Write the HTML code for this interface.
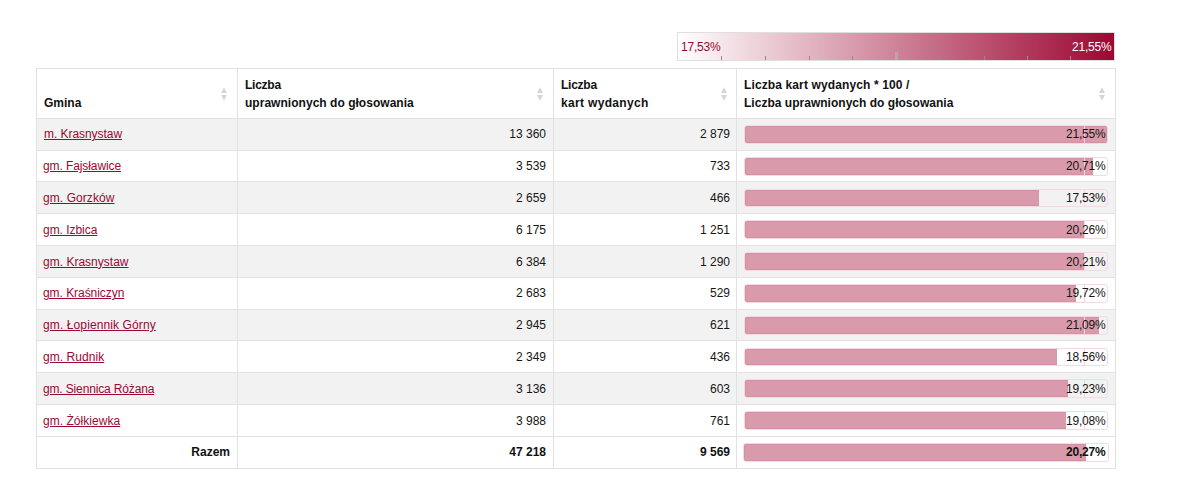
<!DOCTYPE html>
<html lang="pl">
<head>
<meta charset="utf-8">
<title>Frekwencja</title>
<style>
html,body{margin:0;padding:0;background:#fff;}
body{width:1181px;height:486px;position:relative;overflow:hidden;font-family:"Liberation Sans",sans-serif;font-size:12px;color:#151515;}
.legend{position:absolute;left:677px;top:32px;width:436px;height:27px;border:1px solid #dfdfdf;background:linear-gradient(to right,#ffffff 0%,#9d0732 100%);}
.legend .lo{position:absolute;left:3px;top:6px;line-height:17px;color:#9d0732;letter-spacing:-0.2px;}
.legend .hi{position:absolute;right:2.5px;top:6px;line-height:17px;color:#fff;letter-spacing:-0.2px;}
.legend i{position:absolute;bottom:0;width:1px;height:4px;background:#8e8e8e;}
.legend i.m{height:8px;width:1px;background:#aaa;box-shadow:-1px 0 0 rgba(255,255,255,.18),1px 0 0 rgba(255,255,255,.18);}
table{position:absolute;left:36px;top:67.8px;width:1080px;border-collapse:separate;border-spacing:0;table-layout:fixed;border-right:1px solid #e2e2e2;border-bottom:1px solid #e2e2e2;}
th,td{border-left:1px solid #e2e2e2;border-top:1px solid #e2e2e2;padding:0 7px;box-sizing:border-box;}
th{height:50px;text-align:left;vertical-align:bottom;font-weight:bold;line-height:18px;padding-bottom:6px;position:relative;color:#111;}
td{height:31.8px;line-height:16.8px;text-align:right;vertical-align:top;padding-top:7.6px;padding-bottom:6.4px;}
td.b{padding-top:6.2px;padding-bottom:5.8px;}
tr.o td{background:#f2f2f2;}
td.n{text-align:left;}
td.c3{padding-right:6px;}
td.n a{color:#9d0732;text-decoration:underline;}
td.n a.g{margin-left:-1px;}
tr.s td{font-weight:bold;color:#111;}
.srt{position:absolute;right:10px;top:18px;width:6px;height:14px;}
th.h3 .srt{right:9px;}
.bar{position:relative;height:16.8px;border:1px solid #f2dae0;border-radius:3px;}
.bar b{position:absolute;left:0;top:0;bottom:0;background:#d99bab;border-radius:2px 0 0 2px;box-shadow:inset 0 1px 0 rgba(157,7,50,.06),inset 0 -1px 0 rgba(157,7,50,.06),inset 1px 0 0 rgba(157,7,50,.06);}
.bar b.f{border-radius:2px;box-shadow:inset 0 0 0 1px rgba(157,7,50,.06);}
.bar u{position:absolute;left:339px;top:0;bottom:0;width:1px;background:#f1d6dc;}
.bar span{position:absolute;right:1.5px;top:0.4px;line-height:16.8px;font-weight:normal;letter-spacing:-0.2px;}
tr.s .bar span{font-weight:bold;right:2.5px;}
tr.s td.b{padding-left:6px;padding-right:6px;}
tr.s .bar u{display:none;}
</style>
</head>
<body>
<div class="legend">
<span class="lo">17,53%</span><span class="hi">21,55%</span>
<i style="left:43px"></i><i style="left:87px"></i><i style="left:131px"></i><i style="left:174px"></i><i class="m" style="left:218px"></i><i style="left:262px"></i><i style="left:306px"></i><i style="left:349px"></i><i style="left:392px"></i>
</div>
<table>
<colgroup><col style="width:201px"><col style="width:316px"><col style="width:183px"><col style="width:379px"></colgroup>
<thead>
<tr>
<th>Gmina<svg class="srt" viewBox="0 0 6 14"><path d="M3 0.2L6 5.9H0Z M3 13.7L6 8H0Z" fill="#d6d6d6"/></svg></th>
<th><span style="letter-spacing:-0.25px">Liczba</span><br><span style="letter-spacing:0.03px">uprawnionych do głosowania</span><svg class="srt" viewBox="0 0 6 14"><path d="M3 0.2L6 5.9H0Z M3 13.7L6 8H0Z" fill="#d6d6d6"/></svg></th>
<th class="h3"><span style="letter-spacing:-0.25px">Liczba</span><br><span style="letter-spacing:0.33px">kart wydanych</span><svg class="srt" viewBox="0 0 6 14"><path d="M3 0.2L6 5.9H0Z M3 13.7L6 8H0Z" fill="#d6d6d6"/></svg></th>
<th><span style="letter-spacing:0.12px">Liczba kart wydanych * 100 /</span><br><span style="letter-spacing:0.02px">Liczba uprawnionych do głosowania</span><svg class="srt" viewBox="0 0 6 14"><path d="M3 0.2L6 5.9H0Z M3 13.7L6 8H0Z" fill="#d6d6d6"/></svg></th>
</tr>
</thead>
<tbody>
<tr class="o"><td class="n"><a style="letter-spacing:-0.05px">m. Krasnystaw</a></td><td>13 360</td><td class="c3">2 879</td><td class="b"><div class="bar"><b class="f" style="width:362px"></b><u></u><span>21,55%</span></div></td></tr>
<tr><td class="n"><a class="g" style="letter-spacing:-0.097px">gm. Fajsławice</a></td><td>3 539</td><td class="c3">733</td><td class="b"><div class="bar"><b style="width:347.89px"></b><u></u><span>20,71%</span></div></td></tr>
<tr class="o"><td class="n"><a class="g" style="letter-spacing:0.074px">gm. Gorzków</a></td><td>2 659</td><td class="c3">466</td><td class="b"><div class="bar"><b style="width:294.47px"></b><u></u><span>17,53%</span></div></td></tr>
<tr><td class="n"><a class="g" style="letter-spacing:-0.040px">gm. Izbica</a></td><td>6 175</td><td class="c3">1 251</td><td class="b"><div class="bar"><b style="width:340.33px"></b><u></u><span>20,26%</span></div></td></tr>
<tr class="o"><td class="n"><a class="g" style="letter-spacing:0.010px">gm. Krasnystaw</a></td><td>6 384</td><td class="c3">1 290</td><td class="b"><div class="bar"><b style="width:339.49px"></b><u></u><span>20,21%</span></div></td></tr>
<tr><td class="n"><a class="g" style="letter-spacing:-0.050px">gm. Kraśniczyn</a></td><td>2 683</td><td class="c3">529</td><td class="b"><div class="bar"><b style="width:331.26px"></b><u></u><span>19,72%</span></div></td></tr>
<tr class="o"><td class="n"><a class="g" style="letter-spacing:0.110px">gm. Łopiennik Górny</a></td><td>2 945</td><td class="c3">621</td><td class="b"><div class="bar"><b style="width:354.27px"></b><u></u><span>21,09%</span></div></td></tr>
<tr><td class="n"><a class="g" style="letter-spacing:0.050px">gm. Rudnik</a></td><td>2 349</td><td class="c3">436</td><td class="b"><div class="bar"><b style="width:311.77px"></b><u></u><span>18,56%</span></div></td></tr>
<tr class="o"><td class="n"><a class="g" style="letter-spacing:-0.150px">gm. Siennica Różana</a></td><td>3 136</td><td class="c3">603</td><td class="b"><div class="bar"><b style="width:323.03px"></b><u></u><span>19,23%</span></div></td></tr>
<tr><td class="n"><a class="g" style="letter-spacing:0.040px">gm. Żółkiewka</a></td><td>3 988</td><td class="c3">761</td><td class="b"><div class="bar"><b style="width:320.51px"></b><u></u><span>19,08%</span></div></td></tr>
<tr class="s"><td>Razem</td><td>47 218</td><td class="c3">9 569</td><td class="b"><div class="bar"><b style="width:342px"></b><u></u><span>20,27%</span></div></td></tr>
</tbody>
</table>
</body>
</html>
